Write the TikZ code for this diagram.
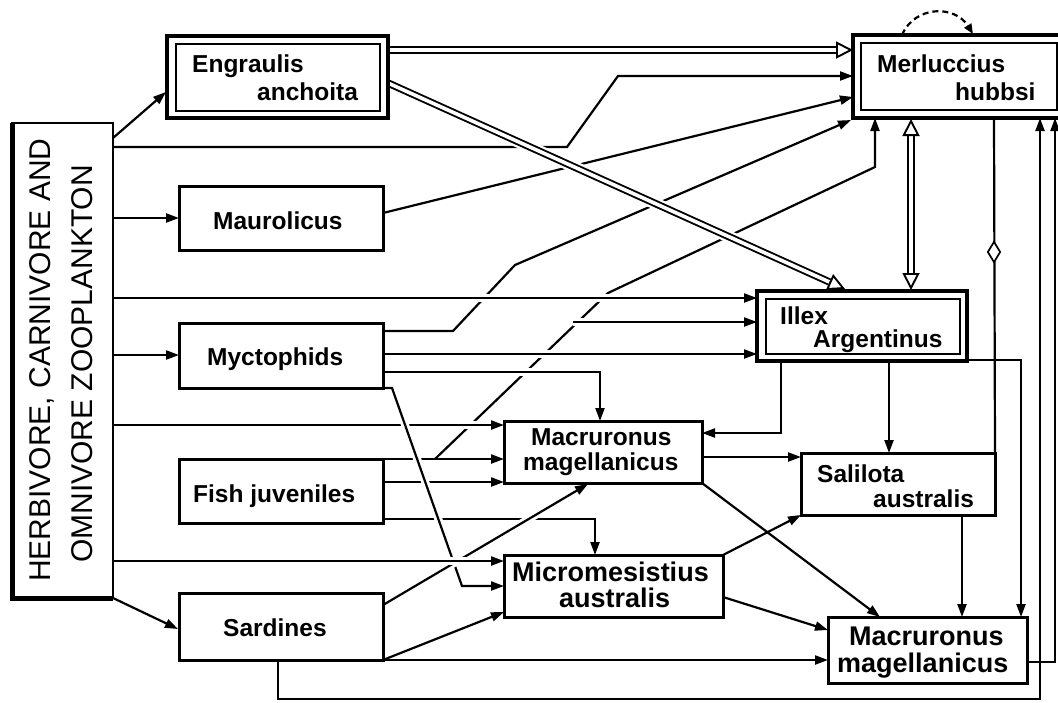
\documentclass[tikz,border=0pt]{standalone}
\usepackage{fontspec}
\setmainfont{Liberation Sans}
\usetikzlibrary{arrows.meta,calc,shapes.geometric}
\pgfdeclarelayer{bg}
\pgfsetlayers{bg,main}
\begin{document}
\begin{tikzpicture}[x=1pt,y=-1pt,
  conn/.style={line width=2.2pt},
  arr/.style={conn,-{Triangle[length=13pt,width=9pt]}},
  gap/.style={preaction={draw=white,line width=8pt,-}},
  box/.style={draw,line width=3pt,fill=white,inner sep=0pt,outer sep=0pt,anchor=north west},
  inbox/.style={line width=2.2pt},
  lbl/.style={font=\bfseries\fontsize{24.5}{24.5}\selectfont,inner sep=0pt,anchor=base west},
  biglbl/.style={lbl,font=\bfseries\fontsize{27}{27}\selectfont},
  ztxt/.style={font=\fontsize{30}{30}\selectfont,inner sep=0pt,anchor=base,rotate=90},
  dbl/.style={double,double distance=3.6pt,line width=1.9pt,preaction={draw=white,line width=12pt}},
  ohead/.style={line width=1.9pt,-{Triangle[open,fill=white,length=17pt,width=17pt]}},
]
\useasboundingbox (0,0) rectangle (1058,702);

% ---------- boxes ----------
\node[box,line width=2.4pt,minimum width=101pt,minimum height=475pt] (zoo) at (12,123) {};
\draw[line width=5pt,line join=miter] (zoo.north west) -- (zoo.south west) -- (zoo.south east);
\node[ztxt] (zt1) at (50,360) {HERBIVORE, CARNIVORE AND};
\node[ztxt] (zt2) at (92,364) {OMNIVORE ZOOPLANKTON};

\node[box,line width=3.4pt,minimum width=221pt,minimum height=82pt] (eng) at (167,36) {};
\draw[inbox] (176,44) rectangle (380,111);
\node[lbl] (engA) at (192,72) {Engraulis};
\node[lbl] (engB) at (257,100) {anchoita};

\node[box,minimum width=204pt,minimum height=64pt] (maur) at (179,186) {};
\node[lbl] (maurT) at (213,229) {Maurolicus};

\node[box,minimum width=204pt,minimum height=65pt] (myct) at (179,323) {};
\node[lbl] (myctT) at (207,365) {Myctophids};

\node[box,minimum width=204pt,minimum height=64pt] (fish) at (179,459) {};
\node[lbl] (fishT) at (193,502) {Fish juveniles};

\node[box,minimum width=204pt,minimum height=67pt] (sard) at (179,593) {};
\node[lbl] (sardT) at (223,636) {Sardines};

\node[box,line width=3.4pt,minimum width=215pt,minimum height=83pt] (merl) at (853,35) {};
\draw[inbox] (861,43) rectangle (1057,110);
\node[lbl] (merlA) at (877,72) {Merluccius};
\node[lbl] (merlB) at (955,100) {hubbsi};

\node[box,line width=3.4pt,minimum width=210pt,minimum height=70pt] (illex) at (757,291) {};
\draw[inbox] (766,299) rectangle (960,354);
\node[lbl] (illA) at (780,324) {Illex};
\node[lbl] (illB) at (813,347) {Argentinus};

\node[box,minimum width=198pt,minimum height=62pt] (mac1) at (504,421) {};
\node[lbl] (mac1A) at (531,445) {Macruronus};
\node[lbl] (mac1B) at (523,470) {magellanicus};

\node[box,minimum width=194pt,minimum height=62pt] (sal) at (801,453) {};
\node[lbl] (salA) at (817,482) {Salilota};
\node[lbl] (salB) at (873,507) {australis};

\node[box,minimum width=219pt,minimum height=62pt] (micro) at (504,555) {};
\node[biglbl] (microA) at (512,581) {Micromesistius};
\node[biglbl] (microB) at (559,607) {australis};

\node[box,minimum width=199pt,minimum height=66pt] (mac2) at (828,617) {};
\node[biglbl] (mac2A) at (849,645) {Macruronus};
\node[biglbl] (mac2B) at (837,672) {magellanicus};

\node[diamond,draw,fill=white,line width=1.7pt,minimum width=13pt,minimum height=21pt,inner sep=0pt] (dia) at (994,252) {};

% ---------- connectors ----------
\begin{pgfonlayer}{bg}
% bottom layer (crossed by others)
\draw[arr] (435,459) -- (608,293) -- (875,167) -- (875,0 |- merl.south);
\draw[arr] (myct.east |- 0,331) -- (453,331) -- (515,265) -- (851,120);
\draw[arr] (maur.east |- 0,213) -- (853,97);
\draw[arr] (zoo.east |- 0,147) -- (567,147) -- (618,76) -- (853,76);
\draw[arr] (fish.east |- 0,459) -- (mac1.west |- 0,459);
\draw[arr] (fish.east |- 0,482) -- (mac1.west |- 0,482);
\draw[arr] (fish.east |- 0,519) -- (595,519) -- (595,0 |- micro.north);
% horizontals over the long lines
\draw[arr,gap] (573,322) -- (illex.west |- 0,322);
\draw[arr,gap] (zoo.east |- 0,298) -- (illex.west |- 0,298);
\draw[arr,gap] (myct.east |- 0,354) -- (illex.west |- 0,354);
\draw[arr,gap] (myct.east |- 0,372) -- (600,372) -- (600,0 |- mac1.north);
\draw[arr,gap] (zoo.east |- 0,425) -- (mac1.west |- 0,425);
% diagonals
\draw[arr,gap] (myct.south east) -- (392,388) -- (462,586) -- (micro.west |- 0,586);
\draw[arr,gap] (sard.east |- 0,605) -- (588,484);
\draw[arr,gap] (zoo.east |- 0,561) -- (micro.west |- 0,561);
% remaining from the left
\draw[arr] (113,138) -- (166,92);
\draw[arr] (zoo.east |- maur.west) -- (maur.west);
\draw[arr] (zoo.east |- 0,355) -- (myct.west |- 0,355);
\draw[arr] (zoo.south east) -- (178,629);
\draw[arr] (sard.south east) -- (504,612);
\draw[arr] (sard.south east) -- (mac2.west |- 0,660);
\draw[arr] (278,0 |- sard.south) -- (278,699) -- (1040,699) -- (1040,0 |- merl.south);
% right part
\draw[arr] (781,0 |- illex.south) -- (781,433) -- (mac1.east |- 0,433);
\draw[arr] (889,0 |- illex.south) -- (889,0 |- sal.north);
\draw[arr] (illex.east |- 0,360) -- (1021,360) -- (1021,0 |- mac2.north);
\draw[arr] (mac1.east |- 0,457) -- (sal.west |- 0,457);
\draw[arr] (mac1.south east) -- (880,0 |- mac2.north);
\draw[arr] (micro.north east) -- (sal.south west);
\draw[arr] (micro.east |- 0,597) -- (mac2.west |- 0,630);
\draw[arr] (962,0 |- sal.south) -- (962,0 |- mac2.north);
\draw[arr] (mac2.east |- 0,662) -- (1055,662) -- (1055,0 |- merl.south);
\draw[conn] (994,0 |- merl.south) -- (sal.north east);
\draw[conn,dash pattern=on 6pt off 4pt,-{Triangle[length=10pt,width=8pt]}] (902,35) .. controls (915,5) and (955,5) .. (973,34);
% double lines from Engraulis
\draw[dbl] (eng.east |- 0,50) -- (836,50);
\draw[ohead] (836,50) -- (853,50);
\draw[dbl] (388,83) -- ($(845,289)!17pt!(388,83)$);
\draw[ohead] ($(845,289)!17pt!(388,83)$) -- (845,289);
% double two-headed Merluccius - Illex
\draw[dbl] (911,135) -- (911,274);
\draw[ohead] (911,135) -- (911,119);
\draw[ohead] (911,274) -- (911,290);
\end{pgfonlayer}
\end{tikzpicture}
\end{document}
